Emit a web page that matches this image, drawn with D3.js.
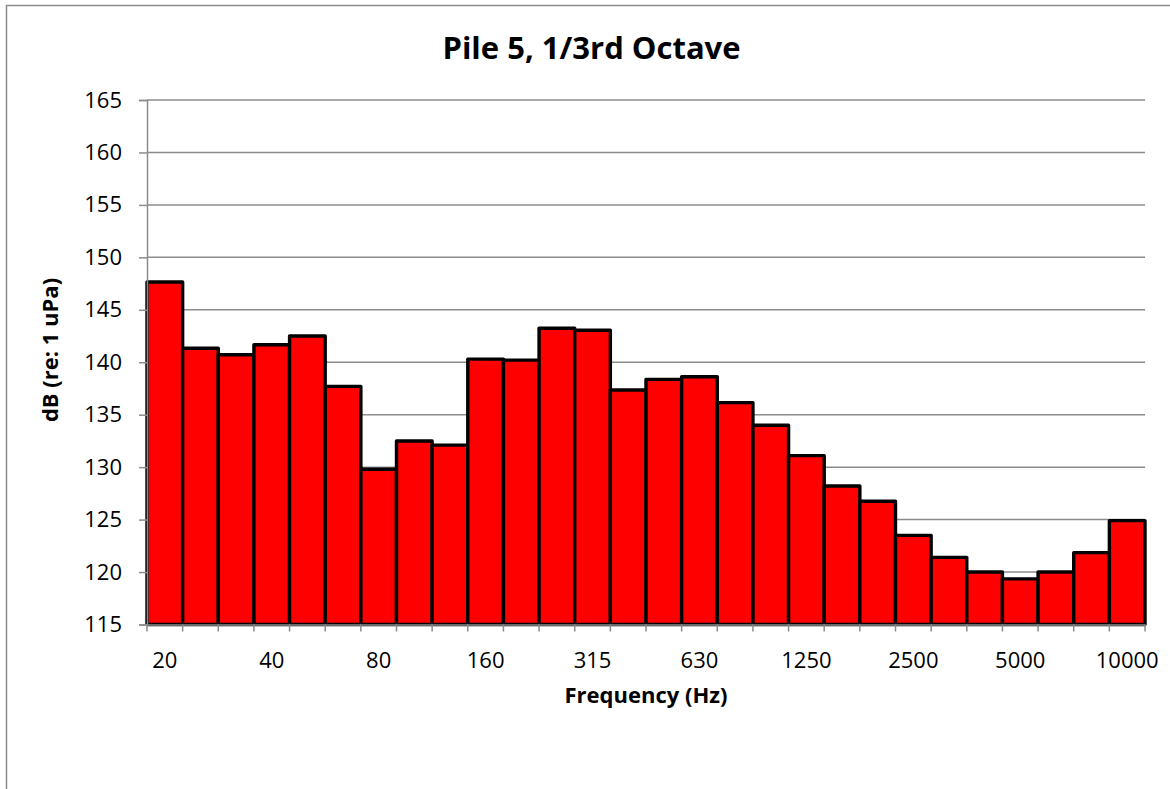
<!DOCTYPE html>
<html>
<head>
<meta charset="utf-8">
<script src="https://cdn.jsdelivr.net/npm/d3@7"></script>
<style>
  html, body { margin: 0; padding: 0; background: #fff; }
  svg { display: block; }
  text { font-family: "Open Sans", "Noto Sans", sans-serif; fill: #000; }
</style>
</head>
<body>
<svg id="chart" width="1170" height="789"></svg>
<script>
// ---- data ----
const categories = ["20","25","31.5","40","50","63","80","100","125","160","200","250","315","400","500","630","800","1000","1250","1600","2000","2500","3150","4000","5000","6300","8000","10000"];
const levels = [147.65, 141.33, 140.72, 141.67, 142.5, 137.7, 129.8, 132.5, 132.1, 140.3, 140.2, 143.24, 143.05, 137.35, 138.37, 138.62, 136.15, 134.0, 131.1, 128.2, 126.75, 123.5, 121.4, 120.0, 119.35, 120.0, 121.85, 124.9];
const xTickLabels = ["20","40","80","160","315","630","1250","2500","5000","10000"];
const yTicks = [115, 120, 125, 130, 135, 140, 145, 150, 155, 160, 165];
const titleText = "Pile 5, 1/3rd Octave";
const xTitle = "Frequency (Hz)";
const yTitle = "dB (re: 1 uPa)";

(function () {
// ---- layout ----
const pL = 147, pR = 1145, pT = 100, pB = 624.5;
const gridColor = "#8c8c8c";

const svg = d3.select("#chart");

// chart border (left & top visible)
svg.append("path")
  .attr("d", `M6.5,789 L6.5,5.5 L1170,5.5`)
  .attr("fill", "none")
  .attr("stroke", "#8c8c8c")
  .attr("stroke-width", 1.5);

const x = d3.scaleBand().domain(categories).range([pL, pR]).padding(0);
const y = d3.scaleLinear().domain([115, 165]).range([pB, pT]);

// gridlines
svg.append("g").selectAll("line")
  .data(yTicks.filter(d => d !== 115))
  .join("line")
  .attr("x1", pL).attr("x2", pR)
  .attr("y1", d => y(d)).attr("y2", d => y(d))
  .attr("stroke", gridColor).attr("stroke-width", 1.5);

// bars
svg.append("g").selectAll("rect")
  .data(categories.map((c, i) => ({ c, v: levels[i] })))
  .join("rect")
  .attr("x", d => x(d.c))
  .attr("width", x.bandwidth())
  .attr("y", d => y(d.v))
  .attr("height", d => y(115) - y(d.v))
  .attr("fill", "#ff0000")
  .attr("stroke", "#000")
  .attr("stroke-width", 3.4)
  .attr("stroke-linejoin", "round");

// y axis
const yAxis = d3.axisLeft(y).tickValues(yTicks).tickSize(8).tickPadding(17).tickFormat(d3.format("d"));
const gy = svg.append("g").attr("transform", `translate(${pL},0)`).call(yAxis);
gy.select(".domain").attr("stroke", gridColor).attr("stroke-width", 1.5);
gy.selectAll(".tick line").attr("stroke", gridColor).attr("stroke-width", 1.5);
gy.selectAll(".tick text").attr("font-size", 22).attr("font-family", "Open Sans").attr("fill", "#000");

// x axis: boundary ticks via band scale
const boundaries = categories.map(c => x(c)).concat([x(categories[categories.length - 1]) + x.bandwidth()]);
svg.append("g").selectAll("line")
  .data(boundaries)
  .join("line")
  .attr("x1", d => d).attr("x2", d => d)
  .attr("y1", pB).attr("y2", pB + 7)
  .attr("stroke", gridColor).attr("stroke-width", 1.5);

const xAxis = d3.axisBottom(x).tickValues(xTickLabels).tickSize(0).tickPadding(0);
const gx = svg.append("g").attr("transform", `translate(0,${pB})`).call(xAxis);
gx.select(".domain").attr("stroke", gridColor).attr("stroke-width", 1.5);
gx.selectAll(".tick text")
  .attr("font-size", 22).attr("font-family", "Open Sans").attr("fill", "#000")
  .attr("y", 43.5).attr("dy", 0);

// title
svg.append("text")
  .attr("x", 591.5).attr("y", 59)
  .attr("text-anchor", "middle")
  .attr("font-size", 31).attr("font-weight", "bold")
  .text(titleText);

// axis titles
svg.append("text")
  .attr("x", (pL + pR) / 2).attr("y", 703)
  .attr("text-anchor", "middle")
  .attr("font-size", 22).attr("font-weight", "bold")
  .text(xTitle);

svg.append("text")
  .attr("transform", "translate(58,350) rotate(-90)")
  .attr("text-anchor", "middle")
  .attr("font-size", 22).attr("font-weight", "bold")
  .text(yTitle);
})();
</script>
</body>
</html>
